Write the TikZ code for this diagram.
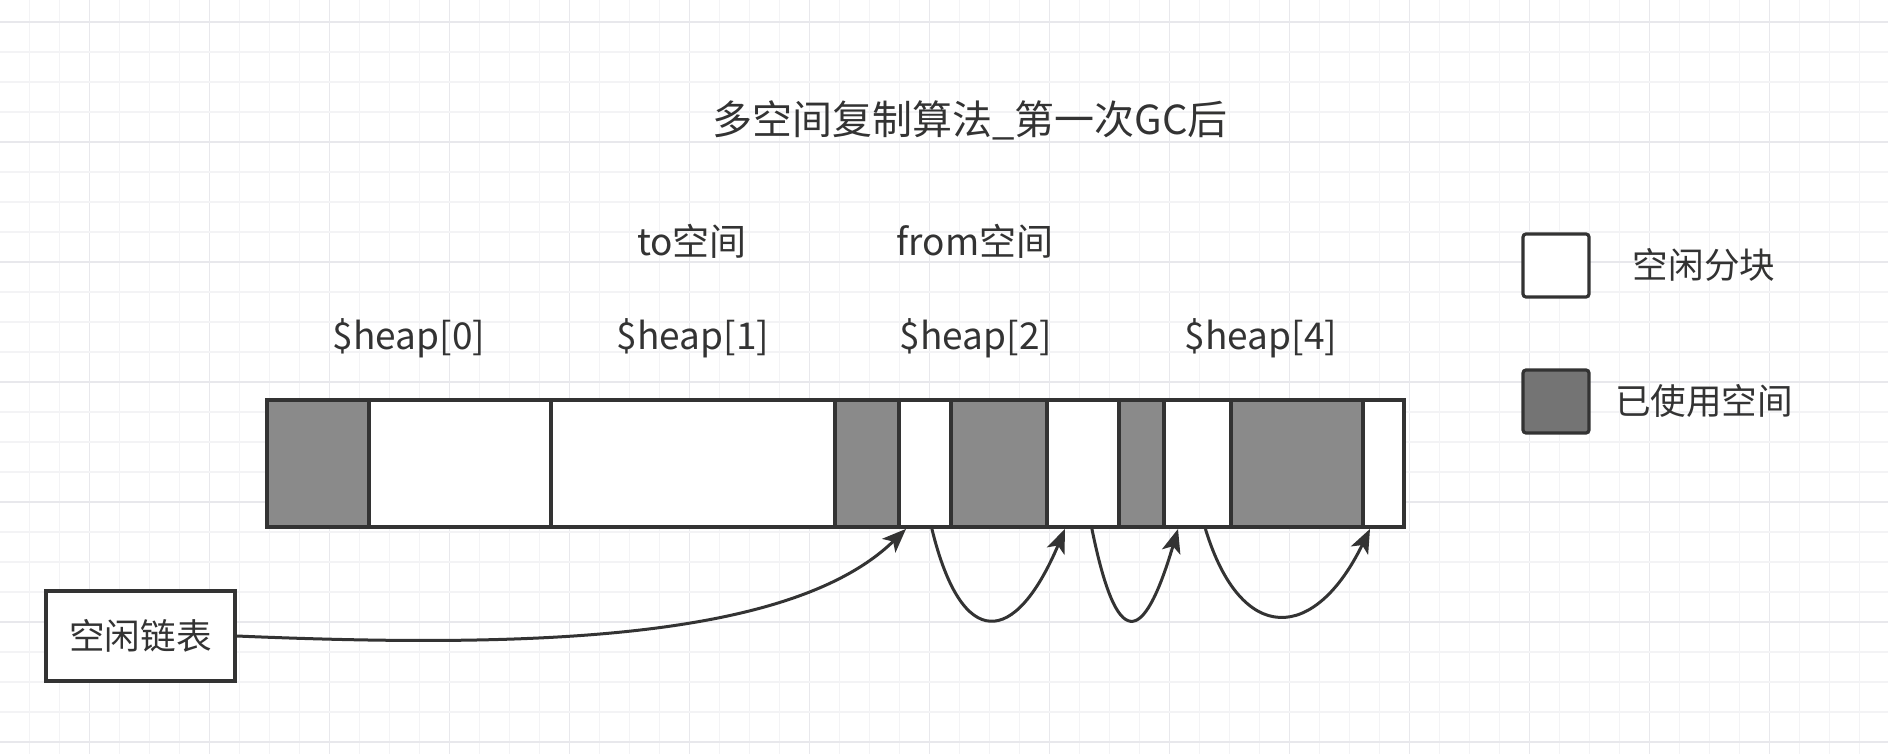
\documentclass[tikz,border=0pt]{standalone}
\usepackage{fontspec}
\setmainfont{Noto Sans CJK SC}
\usepackage{xcolor}
\usetikzlibrary{arrows.meta}
\definecolor{inkD}{HTML}{333333}
\definecolor{usedG}{HTML}{8A8A8A}
\definecolor{keyG}{HTML}{747474}
\definecolor{gridMin}{HTML}{F3F3F5}
\definecolor{gridMaj}{HTML}{E8E8EC}

\tikzset{
  blk/.style={draw=inkD, line width=1.9pt, minimum height=63.5pt, inner sep=0pt, anchor=west},
  keybox/.style={draw=inkD, line width=1.6pt, rounded corners=1.5pt, minimum width=33pt, minimum height=31.5pt},
  link/.style={draw=inkD, line width=1.5pt, -{Stealth[length=12pt, width=9.5pt, inset=3pt]}},
  lbl/.style={text=inkD, font=\fontsize{18.5pt}{22pt}\selectfont},
}

\begin{document}
\begin{tikzpicture}[x=0.5pt, y=-0.5pt]
  \path[use as bounding box, fill=white] (0,0) rectangle (1888,754);

  % paper grid
  \foreach \k in {0,...,63}{
    \pgfmathsetmacro\gx{-0.7+30*\k}
    \pgfmathtruncatemacro\gm{mod(\k+1,4)}
    \ifnum\gm=0 \draw[gridMaj, line width=0.7pt] (\gx,0) -- (\gx,754);
    \else \draw[gridMin, line width=0.6pt] (\gx,0) -- (\gx,754); \fi
  }
  \foreach \k in {0,...,26}{
    \pgfmathsetmacro\gy{-8+30*\k}
    \pgfmathtruncatemacro\gm{mod(\k+3,4)}
    \ifnum\gm=0 \draw[gridMaj, line width=0.7pt] (0,\gy) -- (1888,\gy);
    \else \draw[gridMin, line width=0.6pt] (0,\gy) -- (1888,\gy); \fi
  }

  \node[lbl, font=\fontsize{20pt}{24pt}\selectfont] (title) at (970,120) {多空间复制算法\_第一次GC后};

  \node[lbl] (tospace) at (692,241) {to空间};
  \node[lbl] (fromspace) at (975,241) {from空间};
  \foreach \n/\x/\lab in {h0/409/0, h1/693/1, h2/976/2, h4/1261/4}{
    \node[lbl] (\n) at (\x,338) {\$heap[\lab]};
  }

  % heap blocks, left edge / right edge in px
  \foreach \n/\a/\b/\fc in {
    u1/265/367/usedG, f0/367/549/white, t0/549/833/white,
    u2/833/897/usedG, f1/897/949/white, u3/949/1045/usedG,
    f2/1045/1117/white, u4/1117/1162/usedG, f3/1162/1229/white,
    u5/1229/1361/usedG, f4/1361/1402/white}{
    \pgfmathsetmacro\w{(\b-\a)*0.5}
    \node[blk, fill=\fc, minimum width=\w pt] (\n) at (\a,463.5) {};
  }

  % legend
  \node[keybox, fill=white] (keyfree) at (1556,265.5) {};
  \node[keybox, fill=keyG] (keyused) at (1556,401.5) {};
  \node[lbl, font=\fontsize{17.8pt}{22pt}\selectfont] (keyfreetxt) at (1704,265) {空闲分块};
  \node[lbl, font=\fontsize{17.8pt}{22pt}\selectfont] (keyusedtxt) at (1704,401) {已使用空间};

  \node[lbl, font=\fontsize{17.8pt}{22pt}\selectfont, draw=inkD, line width=1.7pt, fill=white,
    minimum width=94.5pt, minimum height=45pt] (freelist) at (140.5,636) {空闲链表};

  % free list chain
  \draw[link] (freelist.east) .. controls +(285,12) and +(-116,113) .. ([xshift=4.5pt]f1.south west);
  \draw[link] ([xshift=3.5pt]f1.south) .. controls +(30,123) and +(-50,118) .. ([xshift=10pt]f2.south west);
  \draw[link] ([xshift=4.5pt]f2.south) .. controls +(25,123) and +(-35,118) .. ([xshift=8pt]f3.south west);
  \draw[link] ([xshift=4pt]f3.south) .. controls +(36,118) and +(-55,113) .. ([xshift=4.5pt]f4.south west);
\end{tikzpicture}
\end{document}
